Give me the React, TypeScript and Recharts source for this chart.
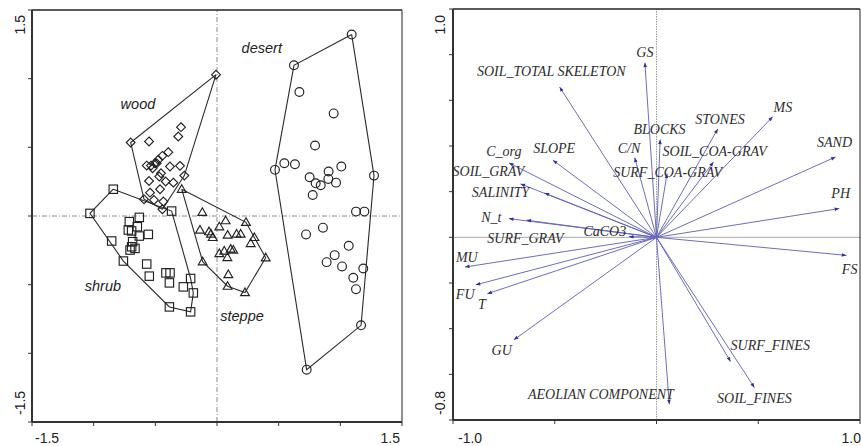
import React from 'react';
import { ScatterChart, Scatter, XAxis, YAxis, ReferenceLine } from 'recharts';

type P = { x: number; y: number };

// ---------- Left panel: samples ----------
const desertHull: P[] = [
  { x: 1.092, y: 1.321 }, { x: 1.273, y: 0.294 }, { x: 1.168, y: -0.796 }, { x: 0.727, y: -1.119 },
  { x: 0.47, y: 0.336 }, { x: 0.624, y: 1.097 }, { x: 1.092, y: 1.321 },
];
const desertPts: P[] = [
  { x: 1.092, y: 1.321 }, { x: 0.624, y: 1.097 }, { x: 0.47, y: 0.336 }, { x: 0.727, y: -1.119 },
  { x: 1.168, y: -0.796 }, { x: 1.273, y: 0.294 }, { x: 0.668, y: 0.903 }, { x: 0.946, y: 0.747 },
  { x: 0.795, y: 0.513 }, { x: 0.546, y: 0.384 }, { x: 0.632, y: 0.377 }, { x: 0.751, y: 0.282 },
  { x: 0.905, y: 0.324 }, { x: 1.008, y: 0.36 }, { x: 0.903, y: 0.27 }, { x: 0.965, y: 0.243 },
  { x: 0.8, y: 0.238 }, { x: 0.841, y: 0.224 }, { x: 0.776, y: 0.153 }, { x: 1.127, y: 0.032 },
  { x: 1.195, y: 0.032 }, { x: 0.859, y: -0.085 }, { x: 0.722, y: -0.134 }, { x: 1.068, y: -0.217 },
  { x: 0.954, y: -0.285 }, { x: 0.889, y: -0.336 }, { x: 1.014, y: -0.367 }, { x: 1.186, y: -0.382 },
  { x: 1.105, y: -0.45 }, { x: 1.127, y: -0.533 },
];
const woodHull: P[] = [
  { x: -0.008, y: 1.029 }, { x: -0.265, y: 0.294 }, { x: -0.443, y: 0.049 }, { x: -0.592, y: 0.122 },
  { x: -0.7, y: 0.535 }, { x: -0.008, y: 1.029 },
];
const woodPts: P[] = [
  { x: -0.008, y: 1.029 }, { x: -0.7, y: 0.535 }, { x: -0.592, y: 0.122 }, { x: -0.443, y: 0.049 },
  { x: -0.265, y: 0.294 }, { x: -0.292, y: 0.647 }, { x: -0.314, y: 0.579 }, { x: -0.551, y: 0.543 },
  { x: -0.395, y: 0.465 }, { x: -0.443, y: 0.438 }, { x: -0.476, y: 0.409 }, { x: -0.503, y: 0.384 },
  { x: -0.535, y: 0.367 }, { x: -0.57, y: 0.367 }, { x: -0.381, y: 0.36 }, { x: -0.3, y: 0.365 },
  { x: -0.454, y: 0.311 }, { x: -0.468, y: 0.287 }, { x: -0.416, y: 0.251 }, { x: -0.354, y: 0.243 },
  { x: -0.551, y: 0.255 }, { x: -0.462, y: 0.195 }, { x: -0.543, y: 0.17 }, { x: -0.511, y: 0.117 },
  { x: -0.435, y: 0.105 }, { x: -0.489, y: 0.384 }, { x: -0.522, y: 0.348 },
];
const shrubHull: P[] = [
  { x: -0.841, y: 0.195 }, { x: -0.368, y: 0.036 }, { x: -0.214, y: -0.455 }, { x: -0.192, y: -0.56 },
  { x: -0.214, y: -0.698 }, { x: -0.386, y: -0.662 }, { x: -0.759, y: -0.328 }, { x: -1.03, y: 0.019 },
  { x: -0.841, y: 0.195 },
];
const shrubPts: P[] = [
  { x: -0.841, y: 0.195 }, { x: -1.03, y: 0.019 }, { x: -0.368, y: 0.036 }, { x: -0.63, y: -0.01 },
  { x: -0.711, y: -0.041 }, { x: -0.646, y: -0.078 }, { x: -0.692, y: -0.109 }, { x: -0.557, y: -0.134 },
  { x: -0.63, y: -0.146 }, { x: -0.684, y: -0.187 }, { x: -0.692, y: -0.224 }, { x: -0.705, y: -0.248 },
  { x: -0.854, y: -0.182 }, { x: -0.759, y: -0.328 }, { x: -0.57, y: -0.35 }, { x: -0.549, y: -0.438 },
  { x: -0.414, y: -0.414 }, { x: -0.381, y: -0.414 }, { x: -0.386, y: -0.487 }, { x: -0.273, y: -0.516 },
  { x: -0.214, y: -0.455 }, { x: -0.192, y: -0.56 }, { x: -0.386, y: -0.662 }, { x: -0.214, y: -0.698 },
  { x: -0.665, y: -0.236 }, { x: -0.719, y: -0.102 },
];
const steppeHull: P[] = [
  { x: -0.286, y: 0.195 }, { x: 0.235, y: -0.046 }, { x: 0.303, y: -0.156 }, { x: 0.395, y: -0.304 },
  { x: 0.227, y: -0.557 }, { x: 0.086, y: -0.511 }, { x: -0.116, y: -0.333 }, { x: -0.286, y: 0.195 },
];
const steppePts: P[] = [
  { x: -0.286, y: 0.195 }, { x: -0.119, y: 0.027 }, { x: 0.235, y: -0.046 }, { x: 0.07, y: -0.034 },
  { x: 0.019, y: -0.078 }, { x: -0.138, y: -0.102 }, { x: -0.065, y: -0.114 }, { x: -0.049, y: -0.131 },
  { x: -0.035, y: -0.156 }, { x: 0.086, y: -0.139 }, { x: 0.159, y: -0.131 }, { x: 0.192, y: -0.131 },
  { x: 0.303, y: -0.156 }, { x: 0.273, y: -0.2 }, { x: 0.019, y: -0.273 }, { x: 0.059, y: -0.255 },
  { x: 0.111, y: -0.241 }, { x: 0.132, y: -0.248 }, { x: 0.084, y: -0.302 }, { x: 0.395, y: -0.304 },
  { x: -0.116, y: -0.333 }, { x: 0.092, y: -0.426 }, { x: 0.086, y: -0.511 }, { x: 0.227, y: -0.557 },
];
const groupLabels = [
  { x: 0.363, y: 1.224, name: 'desert' },
  { x: -0.641, y: 0.818, name: 'wood' },
  { x: -0.925, y: -0.511, name: 'shrub' },
  { x: 0.203, y: -0.73, name: 'steppe' },
];
const leftTicks = [-1.5, -1, -0.5, 0, 0.5, 1, 1.5];

// ---------- Right panel: environmental variables ----------
const varNames = [
  'GS', 'SOIL_TOTAL SKELETON', 'BLOCKS', 'C/N', 'SURF_COA-GRAV', 'SOIL_COA-GRAV', 'STONES', 'MS',
  'SAND', 'PH', 'FS', 'SURF_FINES', 'SOIL_FINES', 'AEOLIAN COMPONENT', 'GU', 'T', 'FU', 'MU',
  'N_t', 'SURF_GRAV', 'SALINITY', 'SOIL_GRAV', 'C_org', 'CaCO3', 'SLOPE',
];
const varX = [
  -0.057, -0.476, 0.018, -0.107, 0.052, 0.28, 0.301, 0.571,
  0.88, 0.898, 0.933, 0.364, 0.481, 0.063, -0.701, -0.831, -0.888, -0.941,
  -0.725, -0.639, -0.668, -0.55, -0.725, -0.135, -0.509,
];
const varY = [
  0.765, 0.658, 0.428, 0.349, 0.279, 0.33, 0.475, 0.528,
  0.352, 0.126, -0.079, -0.544, -0.658, -0.731, -0.449, -0.247, -0.208, -0.13,
  0.082, 0.075, 0.234, 0.194, 0.326, 0.003, 0.338,
];
const labelX = [
  -0.057, -0.517, 0.015, -0.135, 0.055, 0.286, 0.312, 0.621,
  0.875, 0.905, 0.949, 0.559, 0.481, -0.273, -0.761, -0.858, -0.94, -0.932,
  -0.812, -0.644, -0.766, -0.826, -0.75, -0.254, -0.503,
];
const labelY = [
  0.811, 0.728, 0.472, 0.389, 0.282, 0.377, 0.516, 0.57,
  0.417, 0.19, -0.142, -0.474, -0.708, -0.69, -0.497, -0.292, -0.251, -0.088,
  0.085, -0.007, 0.197, 0.287, 0.374, 0.024, 0.389,
];
const rightXTicks = [-1, -0.5, 0, 0.5, 1];
const rightYTicks = [-0.8, -0.6, -0.4, -0.2, 0, 0.2, 0.4, 0.6, 0.8, 1.0];

// ---------- layout ----------
const H = 446;
const R_W = 431;
const R_PLOT_W = 407;
const R_PLOT_H = 411;
const KX = R_PLOT_W / 2;
const KY = R_PLOT_H / 1.8;

const INK = '#222';
const ARROW = '#6464bf';
const SW = 1.15;

const circleShape = (p: any) => <circle cx={p.cx} cy={p.cy} r={4.4} fill="none" stroke={INK} strokeWidth={SW} />;
const squareShape = (p: any) => <rect x={p.cx - 4.2} y={p.cy - 4.2} width={8.4} height={8.4} fill="none" stroke={INK} strokeWidth={SW} />;
const diamondShape = (p: any) => (
  <path d={`M${p.cx},${p.cy - 4.4}L${p.cx + 4.4},${p.cy}L${p.cx},${p.cy + 4.4}L${p.cx - 4.4},${p.cy}Z`} fill="none" stroke={INK} strokeWidth={SW} />
);
const triangleShape = (p: any) => (
  <path d={`M${p.cx},${p.cy - 4.5}L${p.cx + 4.4},${p.cy + 3.1}L${p.cx - 4.4},${p.cy + 3.1}Z`} fill="none" stroke={INK} strokeWidth={SW} />
);
const noShape = () => <g />;

const groupLabelShape = (p: any) => (
  <text x={p.cx} y={p.cy} textAnchor="middle" dominantBaseline="central" fontFamily="'Liberation Sans', Arial, sans-serif" fontStyle="italic" fontSize={14.5} fill="#222">
    {p.payload.name}
  </text>
);
const varLabelShape = (p: any) => (
  <text x={p.cx} y={p.cy} textAnchor="middle" dominantBaseline="central" fontFamily="'Liberation Serif', 'Times New Roman', serif" fontStyle="italic" fontSize={14} fill="#2d2d2d">
    {p.payload.name}
  </text>
);
const arrowHeadShape = (p: any) => {
  if (!p.payload.end) return <g />;
  const dx = p.payload.x * KX;
  const dy = -p.payload.y * KY;
  const len = Math.sqrt(dx * dx + dy * dy) || 1;
  const ux = dx / len, uy = dy / len;
  const L = 4.5, Wd = 1.8;
  const bx = p.cx - ux * L, by = p.cy - uy * L;
  return (
    <path d={`M${p.cx},${p.cy}L${bx - uy * Wd},${by + ux * Wd}L${bx + uy * Wd},${by - ux * Wd}Z`} fill="#2e2e9a" stroke="none" />
  );
};

const fmt = (v: number) => (Math.abs(v) < 1e-9 ? '0.0' : v.toFixed(1));
const tickFont = "'Liberation Sans', Arial, sans-serif";

const makeYTick = (minV: number, maxV: number, topOff: number, botOff: number) => (props: any) => {
  const { x, y, payload } = props;
  const v = payload.value;
  if (Math.abs(v - maxV) < 1e-6) {
    const yy = y + topOff;
    return (
      <text x={x} y={yy} transform={`rotate(-90 ${x} ${yy})`} textAnchor="end" fontFamily={tickFont} fontSize={14} fill="#222">
        {fmt(v)}
      </text>
    );
  }
  if (Math.abs(v - minV) < 1e-6) {
    const yy = y - botOff;
    return (
      <text x={x} y={yy} transform={`rotate(-90 ${x} ${yy})`} textAnchor="start" fontFamily={tickFont} fontSize={14} fill="#222">
        {fmt(v)}
      </text>
    );
  }
  return <g />;
};

const makeXTick = (minV: number, maxV: number, leftOff: number, rightOff: number, dy: number) => (props: any) => {
  const { x, y, payload } = props;
  const v = payload.value;
  if (Math.abs(v - minV) < 1e-6) {
    return (
      <text x={x + leftOff} y={y + dy} textAnchor="start" fontFamily={tickFont} fontSize={14} fill="#222">
        {fmt(v)}
      </text>
    );
  }
  if (Math.abs(v - maxV) < 1e-6) {
    return (
      <text x={x - rightOff} y={y + dy} textAnchor="end" fontFamily={tickFont} fontSize={14} fill="#222">
        {fmt(v)}
      </text>
    );
  }
  return <g />;
};

const groups = [
  { hull: desertHull, pts: desertPts, shape: circleShape, key: 'desert' },
  { hull: woodHull, pts: woodPts, shape: diamondShape, key: 'wood' },
  { hull: shrubHull, pts: shrubPts, shape: squareShape, key: 'shrub' },
  { hull: steppeHull, pts: steppePts, shape: triangleShape, key: 'steppe' },
];

const arrows = varNames.map((name, i) => ({
  name,
  data: [
    { x: 0, y: 0, end: false },
    { x: varX[i], y: varY[i], end: true },
  ],
}));
const varLabels = varNames.map((name, i) => ({ x: labelX[i], y: labelY[i], name }));

export default function App() {
  return (
    <div style={{ position: 'absolute', left: 0, top: 0, width: 861, height: H, background: '#fff', overflow: 'hidden' }}>
      <div style={{ position: 'absolute', left: 0, top: 0 }}>
        <ScatterChart width={430} height={H} margin={{ top: 10, right: 28, bottom: 0, left: 0 }}>
          <XAxis
            type="number" dataKey="x" domain={[-1.5, 1.5]} ticks={leftTicks} height={24}
            axisLine={{ stroke: '#333', strokeWidth: 2 }} tickLine={{ stroke: '#333' }} tickSize={4} tickMargin={2}
            tick={makeXTick(-1.5, 1.5, 3, 2, 15)} interval={0} allowDataOverflow
          />
          <YAxis
            type="number" dataKey="y" domain={[-1.5, 1.5]} ticks={leftTicks} width={32}
            axisLine={{ stroke: '#333', strokeWidth: 2 }} tickLine={{ stroke: '#333' }} tickSize={4} tickMargin={3}
            tick={makeYTick(-1.5, 1.5, 5, 7)} interval={0} allowDataOverflow
          />
          <ReferenceLine x={0} stroke="#8a8a8a" strokeDasharray="5 2 1 2" strokeWidth={1} />
          <ReferenceLine y={0} stroke="#8a8a8a" strokeDasharray="5 2 1 2" strokeWidth={1} />
          <ReferenceLine y={1.5} stroke="#222" strokeWidth={1.3} />
          <ReferenceLine x={1.5} stroke="#222" strokeWidth={1} />
          {groups.map((g) => (
            <Scatter key={g.key + '-hull'} data={g.hull} line={{ stroke: '#2a2a2a', strokeWidth: 1.1 }} shape={noShape} isAnimationActive={false} />
          ))}
          {groups.map((g) => (
            <Scatter key={g.key + '-pts'} data={g.pts} shape={g.shape} isAnimationActive={false} />
          ))}
          <Scatter data={groupLabels} shape={groupLabelShape} isAnimationActive={false} />
        </ScatterChart>
      </div>
      <div style={{ position: 'absolute', left: 430, top: 0 }}>
        <ScatterChart width={R_W} height={H} margin={{ top: 9, right: 1, bottom: 0, left: 0 }}>
          <XAxis
            type="number" dataKey="x" domain={[-1, 1]} ticks={rightXTicks} height={26}
            axisLine={{ stroke: '#333', strokeWidth: 2 }} tickLine={{ stroke: '#333' }} tickSize={4} tickMargin={2}
            tick={makeXTick(-1, 1, 5, -1, 17)} interval={0} allowDataOverflow
          />
          <YAxis
            type="number" dataKey="y" domain={[-0.8, 1.0]} ticks={rightYTicks} width={23}
            axisLine={{ stroke: '#333', strokeWidth: 2 }} tickLine={{ stroke: '#333' }} tickSize={4} tickMargin={4}
            tick={makeYTick(-0.8, 1.0, 6, 5)} interval={0} allowDataOverflow
          />
          <ReferenceLine x={0} stroke="#9a9a9a" strokeDasharray="1.5 1" strokeWidth={1} />
          <ReferenceLine y={0} stroke="#a0a0a0" strokeWidth={0.9} />
          <ReferenceLine y={1.0} stroke="#222" strokeWidth={1.3} />
          <ReferenceLine x={1.0} stroke="#222" strokeWidth={1} />
          {arrows.map((a) => (
            <Scatter key={a.name} data={a.data} line={{ stroke: ARROW, strokeWidth: 0.95 }} shape={arrowHeadShape} isAnimationActive={false} />
          ))}
          <Scatter data={varLabels} shape={varLabelShape} isAnimationActive={false} />
        </ScatterChart>
      </div>
    </div>
  );
}
